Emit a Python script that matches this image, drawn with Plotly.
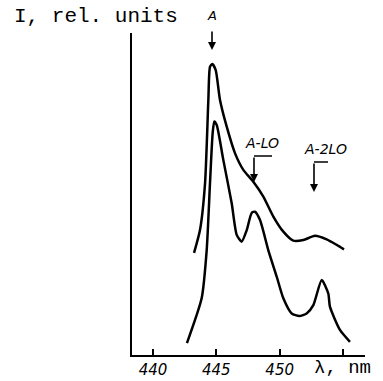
import plotly.graph_objects as go

# Data
upper_wl = [443.24, 443.71, 444.11, 444.37, 444.50, 444.68, 444.95, 445.29, 445.82, 446.47,
            447.13, 447.92, 448.71, 449.50, 450.29, 451.08, 451.87, 452.79, 453.71, 454.50, 455.08]
upper_I = [0.317, 0.388, 0.534, 0.792, 0.895, 0.904, 0.885, 0.792, 0.709, 0.627,
           0.575, 0.538, 0.492, 0.430, 0.383, 0.355, 0.357, 0.370, 0.359, 0.342, 0.328]

lower_wl = [442.68, 443.84, 444.24, 444.50, 444.71, 444.84, 445.03, 445.55, 446.21, 446.61,
            447.00, 447.40, 447.79, 448.05, 448.45, 449.10, 449.77, 450.29, 450.95, 451.55,
            452.13, 452.66, 453.32, 453.84, 453.97, 454.76, 455.55]
lower_I = [0.037, 0.176, 0.326, 0.534, 0.689, 0.725, 0.714, 0.606, 0.472, 0.373,
           0.352, 0.388, 0.441, 0.445, 0.419, 0.326, 0.243, 0.176, 0.129, 0.121,
           0.129, 0.155, 0.233, 0.191, 0.150, 0.078, 0.041]

tick_vals = [440, 445, 450, 455]
tick_text = ["440", "445", "450", ""]

W, H = 383, 381
ML, MR, MT, MB = 132, 18, 33, 26

def px_x(x):
    return 440 + (x - 153) * 5 / 63.33

def px_y(y):
    return (355 - y) / 322

fig = go.Figure()
for xs, ys in [(upper_wl, upper_I), (lower_wl, lower_I)]:
    fig.add_trace(go.Scatter(x=xs, y=ys, mode="lines",
                             line=dict(color="black", width=2.5, shape="spline", smoothing=0.6),
                             showlegend=False, hoverinfo="skip"))

fig.update_layout(
    width=W, height=H,
    margin=dict(l=ML, r=MR, t=MT, b=MB, pad=0),
    paper_bgcolor="white", plot_bgcolor="white",
    xaxis=dict(range=[px_x(132), px_x(365)], showgrid=False, zeroline=False, automargin=False,
               showline=True, linecolor="black", linewidth=2,
               tickmode="array", tickvals=tick_vals, ticktext=tick_text,
               ticks="inside", ticklen=6, tickwidth=1.5, tickcolor="black",
               tickfont=dict(family="DejaVu Sans", size=15, color="black", style="italic")),
    yaxis=dict(range=[0, 1], showgrid=False, zeroline=False, automargin=False,
               showline=True, linecolor="black", linewidth=2,
               showticklabels=False, ticks=""),
)

ann = []
ann.append(dict(xref="paper", yref="paper", x=-ML / (W - ML - MR) + 12 / (W - ML - MR),
                y=1 + (MT - 17) / (H - MT - MB), xanchor="left", yanchor="middle",
                text="I, rel. units", showarrow=False,
                font=dict(family="Liberation Mono", size=21, color="black")))
ann.append(dict(xref="paper", yref="paper", x=(313 - ML) / (W - ML - MR),
                y=-(368 - 355) / (H - MT - MB), xanchor="left", yanchor="middle",
                text="λ, nm", showarrow=False, borderpad=0,
                font=dict(family="Liberation Mono", size=19, color="black")))
# A label and arrow
ann.append(dict(xref="x", yref="y", x=px_x(212), y=px_y(50), ax=0, ay=-20,
                text="", showarrow=True, arrowhead=2, arrowsize=1, arrowwidth=1.6,
                arrowcolor="black"))
ann.append(dict(xref="paper", yref="paper", x=(212 - ML) / (W - ML - MR),
                y=1 + (MT - 16) / (H - MT - MB), xanchor="center", yanchor="middle",
                text="A", showarrow=False,
                font=dict(family="DejaVu Sans", size=13, color="black", style="italic")))
# A-LO
ann.append(dict(xref="x", yref="y", x=px_x(262), y=px_y(143), text="A-LO", showarrow=False,
                font=dict(family="DejaVu Sans", size=14, color="black", style="italic")))
ann.append(dict(xref="x", yref="y", x=px_x(254), y=px_y(182), ax=0, ay=-26,
                text="", showarrow=True, arrowhead=2, arrowsize=1, arrowwidth=1.6,
                arrowcolor="black"))
# A-2LO
ann.append(dict(xref="x", yref="y", x=px_x(325), y=px_y(149), text="A-2LO", showarrow=False,
                font=dict(family="DejaVu Sans", size=14, color="black", style="italic")))
ann.append(dict(xref="x", yref="y", x=px_x(314), y=px_y(192), ax=0, ay=-30,
                text="", showarrow=True, arrowhead=2, arrowsize=1, arrowwidth=1.6,
                arrowcolor="black"))
fig.update_layout(annotations=ann)

fig.add_shape(type="line", xref="x", yref="y", x0=px_x(254), x1=px_x(272),
              y0=px_y(156), y1=px_y(156), line=dict(color="black", width=1.5))
fig.add_shape(type="line", xref="x", yref="y", x0=px_x(314), x1=px_x(328),
              y0=px_y(162), y1=px_y(162), line=dict(color="black", width=1.5))

fig.write_html("out.html",
               config={"displayModeBar": False, "responsive": False},
               post_script="document.body.style.margin='0';document.body.style.overflow='hidden';")
